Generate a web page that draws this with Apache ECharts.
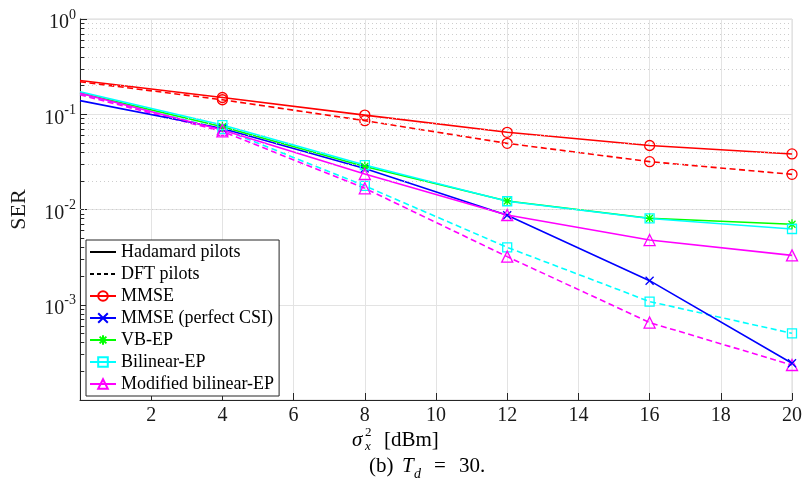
<!DOCTYPE html>
<html>
<head>
<meta charset="utf-8">
<script src="https://cdn.jsdelivr.net/npm/echarts@6/dist/echarts.min.js"></script>
<style>
  html, body { margin: 0; padding: 0; background: #fff; }
  #chart { width: 805px; height: 491px; }
</style>
</head>
<body>
<div id="chart"></div>
<script>
// Transmit power sweep (dBm)
const powerDbm = [0, 4, 8, 12, 16, 20];
const xTickLabels = ['', '2', '4', '6', '8', '10', '12', '14', '16', '18', '20'];

// Symbol error rate per detector
const mmseHadamard   = [0.226, 0.150, 0.098, 0.0646, 0.0470, 0.0383];
const mmseDft        = [0.219, 0.142, 0.0857, 0.0495, 0.0318, 0.0234];
const mmsePerfectCsi = [0.139, 0.071, 0.0270, 0.0087, 0.00179, 0.000243];
const vbEpHadamard   = [0.167, 0.074, 0.0283, 0.0123, 0.00808, 0.00699];
const bilinHadamard  = [0.172, 0.077, 0.0293, 0.0122, 0.00805, 0.00624];
const bilinDft       = [0.163, 0.070, 0.0177, 0.00401, 0.00108, 0.000501];
const modBilinHad    = [0.166, 0.0684, 0.0236, 0.00875, 0.00478, 0.0033];
const modBilinDft    = [0.160, 0.0660, 0.0167, 0.0032, 0.00065, 0.000233];

const legendNames = ['Hadamard pilots', 'DFT pilots', 'MMSE', 'MMSE (perfect CSI)',
                     'VB-EP', 'Bilinear-EP', 'Modified bilinear-EP'];
const styleOnlyEntries = ['Hadamard pilots', 'DFT pilots'];

const FONT = '"Liberation Serif", "DejaVu Serif", serif';
const AXIS_COLOR = '#262626';

const SYM_CROSS = 'path://M0,0L10,10M10,0L0,10';
const SYM_STAR = 'path://M5,0L5,10M0,5L10,5M1.5,1.5L8.5,8.5M8.5,1.5L1.5,8.5';

// minor decade positions for the log axis
const minorVals = [];
for (let e = -4; e < 0; e++) {
  for (let m = 2; m <= 9; m++) minorVals.push(m * Math.pow(10, e));
}

function pts(values) {
  // first point sits on the left edge and carries no marker
  return values.map((v, i) => i === 0
    ? { value: [powerDbm[i], v], symbol: 'none' }
    : [powerDbm[i], v]);
}

function curve(name, values, color, symbol, size, dashed) {
  return {
    name: name,
    type: 'line',
    data: pts(values),
    symbol: symbol,
    symbolSize: size,
    showAllSymbol: true,
    clip: true,
    z: dashed ? 3 : 4,
    lineStyle: { color: color, width: 1.6, type: dashed ? [6, 3.5] : 'solid' },
    itemStyle: { color: 'transparent', borderColor: color, borderWidth: 1.3 },
    emphasis: { disabled: true },
    animation: false
  };
}

const series = [
  // legend-only entries for the two pilot line styles
  { name: 'Hadamard pilots', type: 'line', data: [], symbol: 'none',
    lineStyle: { color: '#000', width: 1.5 }, itemStyle: { color: '#000' } },
  { name: 'DFT pilots', type: 'line', data: [], symbol: 'none',
    lineStyle: { color: '#000', width: 1.5, type: [4, 3] }, itemStyle: { color: '#000' } },

  curve('MMSE', mmseHadamard, '#ff0000', 'circle', 10, false),
  curve('MMSE dft', mmseDft, '#ff0000', 'circle', 10, true),
  curve('MMSE (perfect CSI)', mmsePerfectCsi, '#0000ff', SYM_CROSS, 8, false),
  curve('VB-EP', vbEpHadamard, '#00ff00', SYM_STAR, 10, false),
  curve('Bilinear-EP', bilinHadamard, '#00ffff', 'rect', 9, false),
  curve('Bilinear-EP dft', bilinDft, '#00ffff', 'rect', 9, true),
  curve('Modified bilinear-EP', modBilinHad, '#ff00ff', 'triangle', 11, false),
  curve('Modified bilinear-EP dft', modBilinDft, '#ff00ff', 'triangle', 11, true),

  // minor grid lines and minor ticks on the log axis
  {
    name: 'minor', type: 'line', data: [], silent: true, z: 1,
    markLine: {
      silent: true, symbol: ['none', 'none'], label: { show: false }, animation: false,
      lineStyle: { type: [1, 3], color: '#cdcdcd', width: 1 },
      data: minorVals.map(v => ({ yAxis: v }))
    }
  },
  {
    name: 'minorTicks', type: 'line', data: [], silent: true, z: 5,
    markLine: {
      silent: true, symbol: ['none', 'none'], label: { show: false }, animation: false,
      lineStyle: { type: 'solid', color: AXIS_COLOR, width: 1 },
      data: minorVals.map(v => [{ coord: [0, v] }, { coord: [0.12, v] }])
    }
  }
];

const chart = echarts.init(document.getElementById('chart'), null, { renderer: 'canvas' });
chart.setOption({
  animation: false,
  backgroundColor: '#fff',
  grid: {
    left: 79, right: 12, top: 19, bottom: 91,
    show: true, borderColor: '#d9d9d9', borderWidth: 1, backgroundColor: 'transparent'
  },
  xAxis: {
    type: 'value', min: 0, max: 20, interval: 2,
    axisLine: { show: true, onZero: false, lineStyle: { color: AXIS_COLOR, width: 1 } },
    axisTick: { show: true, inside: true, length: 7, lineStyle: { color: AXIS_COLOR } },
    axisLabel: {
      color: '#1a1a1a', fontFamily: FONT, fontSize: 20, margin: 6,
      formatter: v => xTickLabels[Math.round(v / 2)]
    },
    splitLine: { show: true, lineStyle: { color: '#e3e3e3', width: 1 } }
  },
  yAxis: {
    type: 'log', logBase: 10, min: 1e-4, max: 1,
    name: 'SER', nameLocation: 'middle', nameGap: 50, nameRotate: 90,
    nameTextStyle: { color: '#1a1a1a', fontFamily: FONT, fontSize: 22 },
    axisLine: { show: true, onZero: false, lineStyle: { color: AXIS_COLOR, width: 1 } },
    axisTick: { show: true, inside: true, length: 7, lineStyle: { color: AXIS_COLOR } },
    axisLabel: {
      fontFamily: FONT, margin: 4,
      formatter: v => {
        const e = Math.round(Math.log10(v));
        if (e === -4) return '';
        return '{b|10}{s|' + e + '}';
      },
      rich: {
        b: { fontFamily: FONT, fontSize: 20, color: '#1a1a1a', padding: [8, 0, 0, 0] },
        s: { fontFamily: FONT, fontSize: 14, color: '#1a1a1a', padding: [0, 0, 8, 0] }
      }
    },
    splitLine: { show: true, lineStyle: { color: '#e3e3e3', width: 1 } }
  },
  legend: {
    orient: 'vertical', left: 86, top: 240,
    data: legendNames.map(n => styleOnlyEntries.includes(n)
      ? { name: n, itemStyle: { opacity: 0, color: 'transparent', borderWidth: 0 } }
      : n),
    itemWidth: 26, itemHeight: 12, itemGap: 4,
    padding: [3, 5, 3, 3],
    backgroundColor: '#fff', borderColor: AXIS_COLOR, borderWidth: 1,
    selectedMode: false,
    textStyle: { fontFamily: FONT, fontSize: 18, color: '#000', lineHeight: 17.5 }
  },
  graphic: [
    { type: 'text', left: 352, top: 430, style: { text: 'σ', font: 'italic 21px ' + FONT, fill: '#000' } },
    { type: 'text', left: 365, top: 426, style: { text: '2', font: '13px ' + FONT, fill: '#000' } },
    { type: 'text', left: 365, top: 440, style: { text: 'x', font: 'italic 13px ' + FONT, fill: '#000' } },
    { type: 'text', left: 384, top: 430, style: { text: '[dBm]', font: '21px ' + FONT, fill: '#000' } },
    { type: 'text', left: 369, top: 456, style: { text: '(b)', font: '21px ' + FONT, fill: '#000' } },
    { type: 'text', left: 402, top: 456, style: { text: 'T', font: 'italic 21px ' + FONT, fill: '#000' } },
    { type: 'text', left: 414, top: 467, style: { text: 'd', font: 'italic 14px ' + FONT, fill: '#000' } },
    { type: 'text', left: 434, top: 456, style: { text: '=', font: '21px ' + FONT, fill: '#000' } },
    { type: 'text', left: 459, top: 456, style: { text: '30.', font: '21px ' + FONT, fill: '#000' } }
  ],
  series: series
});
</script>
</body>
</html>
